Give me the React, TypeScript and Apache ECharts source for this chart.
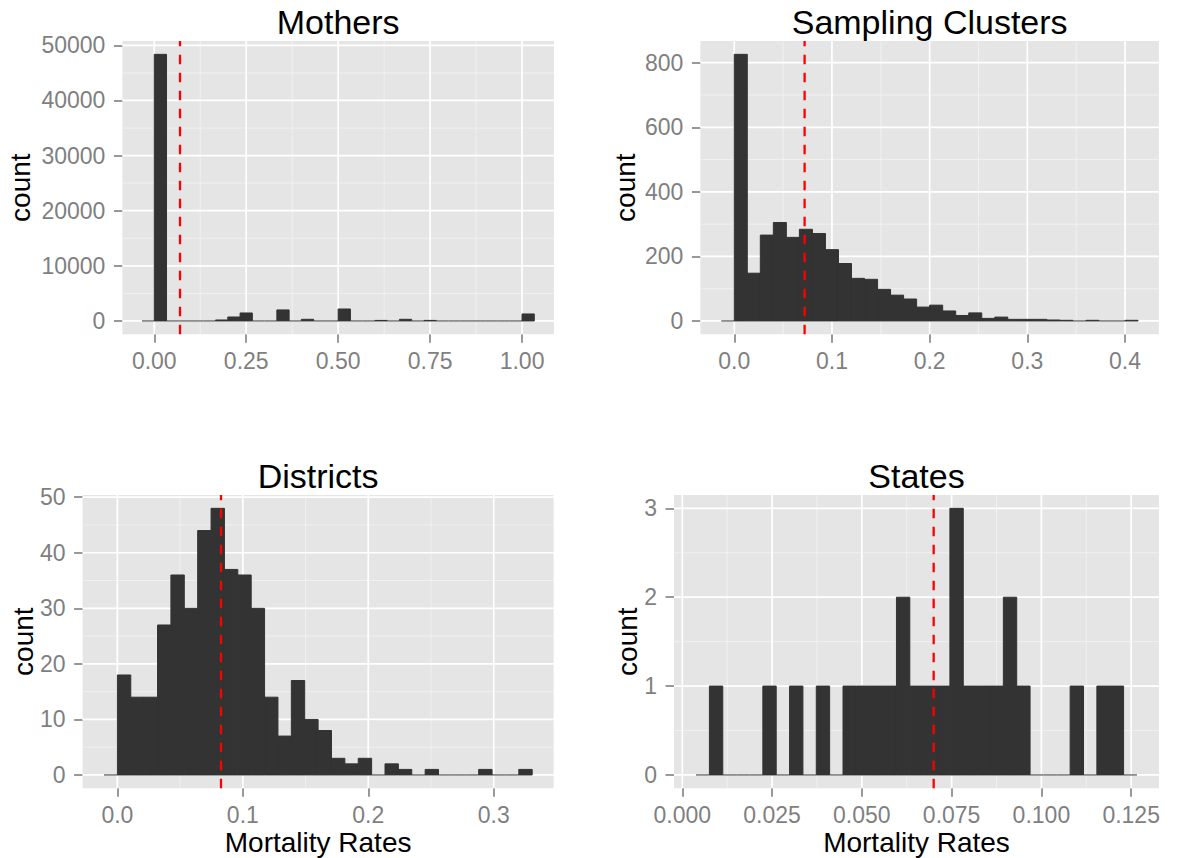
import { useEffect, useRef } from "react";
import * as echarts from "echarts";

const FONT = '"Liberation Sans", Arial, Helvetica, sans-serif';

// ---- Mothers: 32 bins of width 1/30 starting at -1/30
const mothersBinStart = -1 / 30;
const mothersBinWidth = 1 / 30;
const mothersCounts = [
  0, 48370, 0, 0, 0, 0, 180, 720, 1450, 0, 0, 2000, 0, 300, 0, 0,
  2170, 0, 0, 100, 0, 300, 0, 100, 0, 0, 0, 0, 0, 0, 0, 1270,
];
const mothersMean = 0.07;
const mothersXTicks = [0, 0.25, 0.5, 0.75, 1.0];
const mothersXMinor = [0.125, 0.375, 0.625, 0.875];
const mothersYTicks = [0, 10000, 20000, 30000, 40000, 50000];
const mothersYMinor = [5000, 15000, 25000, 35000, 45000];

// ---- Sampling clusters: 32 bins of width 0.4/30
const clustersBinStart = -0.4 / 30;
const clustersBinWidth = 0.4 / 30;
const clustersCounts = [
  0, 826, 148, 266, 305, 259, 284, 271, 221, 178, 132, 129, 98, 80, 68, 43,
  49, 31, 17, 25, 8, 12, 5, 5, 5, 3, 2, 0, 2, 0, 0, 2,
];
const clustersMean = 0.072;
const clustersXTicks = [0, 0.1, 0.2, 0.3, 0.4];
const clustersXMinor = [0.05, 0.15, 0.25, 0.35];
const clustersYTicks = [0, 200, 400, 600, 800];
const clustersYMinor = [100, 300, 500, 700];

// ---- Districts: 32 bins of width 0.32/30
const districtsBinStart = -0.32 / 30;
const districtsBinWidth = 0.32 / 30;
const districtsCounts = [
  0, 18, 14, 14, 27, 36, 30, 44, 48, 37, 36, 30, 14, 7, 17, 10,
  8, 3, 2, 3, 0, 2, 1, 0, 1, 0, 0, 0, 1, 0, 0, 1,
];
const districtsMean = 0.0826;
const districtsXTicks = [0, 0.1, 0.2, 0.3];
const districtsXMinor = [0.05, 0.15, 0.25];
const districtsYTicks = [0, 10, 20, 30, 40, 50];
const districtsYMinor = [5, 15, 25, 35, 45];

// ---- States: 33 bins of width 0.003721 starting at 0.00382
const statesBinStart = 0.00382;
const statesBinWidth = 0.003721;
const statesCounts = [
  0, 1, 0, 0, 0, 1, 0, 1, 0, 1, 0, 1, 1, 1, 1, 2, 1,
  1, 1, 3, 1, 1, 1, 2, 1, 0, 0, 0, 1, 0, 1, 1, 0,
];
const statesMean = 0.07;
const statesXTicks = [0, 0.025, 0.05, 0.075, 0.1, 0.125];
const statesXMinor = [0.0125, 0.0375, 0.0625, 0.0875, 0.1125];
const statesYTicks = [0, 1, 2, 3];
const statesYMinor = [0.5, 1.5, 2.5];

const titles = ["Mothers", "Sampling Clusters", "Districts", "States"];

// Panel rectangles (plot area) in pixels
const panelRects = [
  { left: 122.4, top: 41, width: 431.5, height: 293.3 },
  { left: 700.4, top: 41, width: 458.5, height: 293.3 },
  { left: 82.6, top: 495, width: 471, height: 293.3 },
  { left: 674, top: 495, width: 485, height: 293.3 },
];
const countLabelX = [20.5, 625.8, 23, 627.7];

type Panel = {
  start: number;
  width: number;
  counts: number[];
  mean: number;
  xTicks: number[];
  xMinor: number[];
  yTicks: number[];
  yMinor: number[];
  decimals: number;
  xTitle: boolean;
};

const panels: Panel[] = [
  { start: mothersBinStart, width: mothersBinWidth, counts: mothersCounts, mean: mothersMean, xTicks: mothersXTicks, xMinor: mothersXMinor, yTicks: mothersYTicks, yMinor: mothersYMinor, decimals: 2, xTitle: false },
  { start: clustersBinStart, width: clustersBinWidth, counts: clustersCounts, mean: clustersMean, xTicks: clustersXTicks, xMinor: clustersXMinor, yTicks: clustersYTicks, yMinor: clustersYMinor, decimals: 1, xTitle: false },
  { start: districtsBinStart, width: districtsBinWidth, counts: districtsCounts, mean: districtsMean, xTicks: districtsXTicks, xMinor: districtsXMinor, yTicks: districtsYTicks, yMinor: districtsYMinor, decimals: 1, xTitle: true },
  { start: statesBinStart, width: statesBinWidth, counts: statesCounts, mean: statesMean, xTicks: statesXTicks, xMinor: statesXMinor, yTicks: statesYTicks, yMinor: statesYMinor, decimals: 3, xTitle: true },
];

const GREY = "#7F7F7F";
const BAR = "#333333";

function buildOption() {
  const grid: any[] = [];
  const xAxis: any[] = [];
  const yAxis: any[] = [];
  const series: any[] = [];
  const graphic: any[] = [];

  panels.forEach((p, i) => {
    const r = panelRects[i];
    const n = p.counts.length;
    const xLo = p.start;
    const xHi = p.start + n * p.width;
    const xPad = 0.05 * (xHi - xLo);
    const yMaxData = Math.max(...p.counts);
    const yPad = 0.05 * yMaxData;

    grid.push({
      left: r.left,
      top: r.top,
      width: r.width,
      height: r.height,
      show: true,
      backgroundColor: "#E5E5E5",
      borderWidth: 0,
      containLabel: false,
      outerBoundsMode: "none",
    });

    xAxis.push({
      gridIndex: i,
      type: "value",
      min: xLo - xPad,
      max: xHi + xPad,
      axisLine: { show: false, onZero: false },
      axisTick: {
        show: true,
        customValues: p.xTicks,
        length: 8.5,
        lineStyle: { color: GREY, width: 1.6 },
      },
      axisLabel: {
        customValues: p.xTicks,
        formatter: (v: number) => v.toFixed(p.decimals),
        color: GREY,
        fontSize: 23,
        fontFamily: FONT,
        margin: 26.5,
        verticalAlign: "middle",
      },
      splitLine: { show: false },
    });

    yAxis.push({
      gridIndex: i,
      type: "value",
      min: -yPad,
      max: yMaxData + yPad,
      axisLine: { show: false, onZero: false },
      axisTick: {
        show: true,
        customValues: p.yTicks,
        length: 8.5,
        lineStyle: { color: GREY, width: 1.6 },
      },
      axisLabel: {
        customValues: p.yTicks,
        formatter: (v: number) => String(Math.round(v)),
        color: GREY,
        fontSize: 23,
        fontFamily: FONT,
        margin: 17,
      },
      splitLine: { show: false },
    });

    // grid lines: [value, isMajor, isVertical]
    const gridRows: number[][] = [];
    p.xMinor.forEach((v) => gridRows.push([v, 0, 1]));
    p.yMinor.forEach((v) => gridRows.push([v, 0, 0]));
    p.xTicks.forEach((v) => gridRows.push([v, 1, 1]));
    p.yTicks.forEach((v) => gridRows.push([v, 1, 0]));

    series.push({
      type: "custom",
      xAxisIndex: i,
      yAxisIndex: i,
      z: 1,
      silent: true,
      data: gridRows,
      encode: { x: 0, y: 1 },
      renderItem: (params: any, api: any) => {
        const v = api.value(0);
        const major = api.value(1) === 1;
        const vertical = api.value(2) === 1;
        const cs = params.coordSys;
        const style = {
          stroke: major ? "#FFFFFF" : "#F2F2F2",
          lineWidth: major ? 1.7 : 0.9,
        };
        if (vertical) {
          const px = api.coord([v, 0])[0];
          return { type: "line", shape: { x1: px, y1: cs.y, x2: px, y2: cs.y + cs.height }, style };
        }
        const py = api.coord([0, v])[1];
        return { type: "line", shape: { x1: cs.x, y1: py, x2: cs.x + cs.width, y2: py }, style };
      },
    });

    // histogram bars: [x0, x1, count]
    const bars = p.counts.map((c, k) => [p.start + k * p.width, p.start + (k + 1) * p.width, c]);
    series.push({
      type: "custom",
      xAxisIndex: i,
      yAxisIndex: i,
      z: 2,
      silent: true,
      data: bars,
      encode: { x: [0, 1], y: 2 },
      renderItem: (_params: any, api: any) => {
        const b0 = api.coord([api.value(0), 0]);
        const t1 = api.coord([api.value(1), api.value(2)]);
        const base = b0[1];
        const top = t1[1];
        if (base - top < 0.5) {
          // empty bin: thin outline along the baseline
          return {
            type: "line",
            shape: { x1: b0[0], y1: base, x2: t1[0], y2: base },
            style: { stroke: BAR, lineWidth: 1 },
          };
        }
        return {
          type: "rect",
          shape: { x: b0[0], y: top, width: t1[0] - b0[0], height: base - top },
          style: { fill: BAR, stroke: BAR, lineWidth: 1 },
        };
      },
    });

    // dashed mean line
    series.push({
      type: "custom",
      xAxisIndex: i,
      yAxisIndex: i,
      z: 3,
      silent: true,
      data: [[p.mean, 0]],
      encode: { x: 0, y: 1 },
      renderItem: (params: any, api: any) => {
        const cs = params.coordSys;
        const px = api.coord([api.value(0), 0])[0];
        return {
          type: "line",
          shape: { x1: px, y1: cs.y + cs.height, x2: px, y2: cs.y },
          style: { stroke: "#FF0000", lineWidth: 2.3, lineDash: [9.5, 8.5] },
        };
      },
    });

    const cx = r.left + r.width / 2;
    const cy = r.top + r.height / 2;
    graphic.push({
      type: "text",
      x: cx,
      y: r.top - 19,
      style: { text: titles[i], font: `34px ${FONT}`, fill: "#000000", align: "center", verticalAlign: "middle" },
    });
    graphic.push({
      type: "text",
      x: countLabelX[i],
      y: cy,
      rotation: Math.PI / 2,
      style: { text: "count", font: `28px ${FONT}`, fill: "#000000", align: "center", verticalAlign: "middle" },
    });
    if (p.xTitle) {
      graphic.push({
        type: "text",
        x: cx,
        y: r.top + r.height + 54,
        style: { text: "Mortality Rates", font: `28px ${FONT}`, fill: "#000000", align: "center", verticalAlign: "middle" },
      });
    }
  });

  return {
    animation: false,
    backgroundColor: "#FFFFFF",
    grid,
    xAxis,
    yAxis,
    series,
    graphic,
  };
}

export default function App() {
  const ref = useRef<HTMLDivElement>(null);
  useEffect(() => {
    if (!ref.current) return;
    const chart = echarts.init(ref.current, undefined, { renderer: "svg" });
    chart.setOption(buildOption() as any);
    return () => chart.dispose();
  }, []);
  return (
    <div
      ref={ref}
      style={{ position: "fixed", left: 0, top: 0, width: 1177, height: 858 }}
    />
  );
}
